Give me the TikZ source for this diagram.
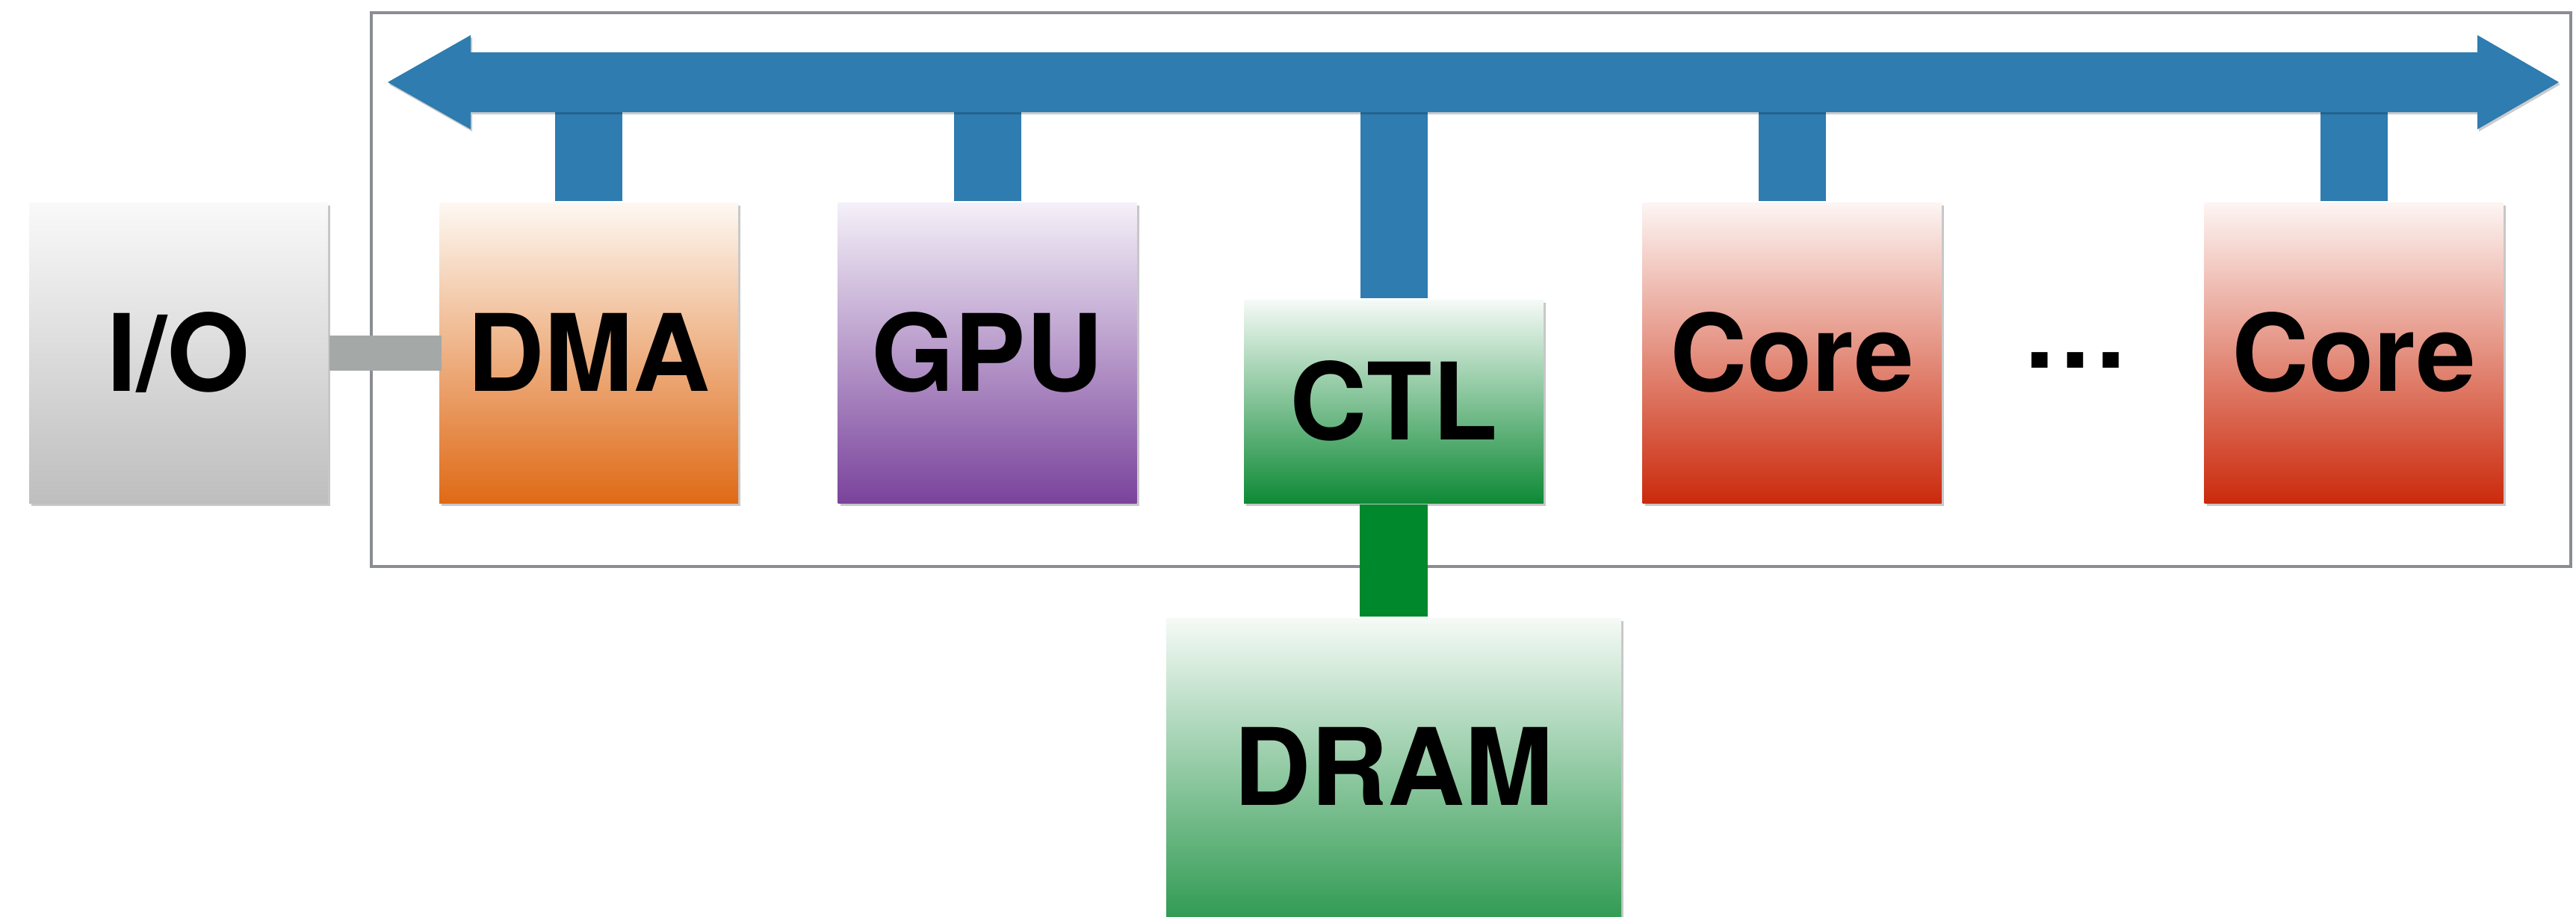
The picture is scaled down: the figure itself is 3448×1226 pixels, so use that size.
\documentclass[tikz,border=0pt]{standalone}
\usepackage{fontspec}
\setmainfont{TeX Gyre Heros}
\usetikzlibrary{shadows}

\definecolor{busblue}{RGB}{46,124,176}
\definecolor{framegray}{RGB}{138,141,146}
\definecolor{linkgray}{RGB}{164,168,167}
\definecolor{linkgreen}{RGB}{0,136,44}
\definecolor{ioTop}{RGB}{249,249,249}
\definecolor{ioBot}{RGB}{190,190,190}
\definecolor{dmaTop}{RGB}{253,248,242}
\definecolor{dmaBot}{RGB}{223,106,22}
\definecolor{gpuTop}{RGB}{244,240,248}
\definecolor{gpuBot}{RGB}{122,67,156}
\definecolor{grnTop}{RGB}{245,250,246}
\definecolor{grnBot}{RGB}{14,138,54}
\definecolor{coreTop}{RGB}{253,245,243}
\definecolor{coreBot}{RGB}{203,42,12}

\begin{document}
\begin{tikzpicture}[x=0.1pt,y=-0.1pt,
  unit/.style={rectangle, inner sep=0pt, minimum width=40pt, minimum height=40.2pt,
    font=\fontsize{14.3}{14.3}\selectfont\bfseries, text height=10.27pt, text depth=0pt,
    drop shadow={shadow xshift=0.3pt, shadow yshift=-0.4pt, opacity=0.22, fill=black}},
  stem/.style={line width=9pt, line cap=butt, draw=busblue},
  iolink/.style={line width=4.7pt, line cap=butt, draw=linkgray},
  memlink/.style={line width=9.1pt, line cap=butt, draw=linkgreen}]

% page area
\useasboundingbox (0,0) rectangle (3448,1226);

% chip outline
\draw[framegray, line width=0.4pt] (497,17) rectangle (3441,758);

% units
\node[unit, top color=ioTop,   bottom color=ioBot]   (io)    at (239,472)    {I/O};
\node[unit, top color=dmaTop,  bottom color=dmaBot]  (dma)   at (788,472)    {DMA};
\node[unit, top color=gpuTop,  bottom color=gpuBot]  (gpu)   at (1321.5,472) {GPU};
\node[unit, top color=grnTop,  bottom color=grnBot, minimum width=40.1pt, minimum height=27.2pt]
                                                     (ctl)   at (1865.5,537) {CTL};
\node[unit, top color=coreTop, bottom color=coreBot] (core1) at (2398.5,472) {Core};
\node[unit, top color=coreTop, bottom color=coreBot] (core2) at (3150.5,472) {Core};
\node[unit, top color=grnTop,  bottom color=grnBot!85!white, minimum width=60.9pt, minimum height=39.9pt,
      drop shadow={opacity=0}]
                                                     (dram)  at (1865.5,1026.5) {DRAM};
\node[inner sep=0pt, anchor=base, font=\fontsize{14.3}{14.3}\selectfont\bfseries] (dots) at (2778,492) {…};

% shared bus
\coordinate (busW) at (519,110);
\coordinate (busE) at (3425,110);
\draw[stem] (dma.north)   -- (dma.north   |- busW);
\draw[stem] (gpu.north)   -- (gpu.north   |- busW);
\draw[stem] (ctl.north)   -- (ctl.north   |- busW);
\draw[stem] (core1.north) -- (core1.north |- busW);
\draw[stem] (core2.north) -- (core2.north |- busW);
\fill[busblue, drop shadow={shadow xshift=0.2pt, shadow yshift=-0.3pt, opacity=0.2, fill=black}]
  (busW) -- ++(111,-63) -- ++(0,23) -- (3316,70) -- ++(0,-23) -- (busE)
  -- (3316,173) -- ++(0,-23) -- (630,150) -- ++(0,23) -- cycle;

% point-to-point links
\draw[iolink] (io.east) -- ([xshift=0.5pt]dma.west);
\draw[memlink] (ctl.south) -- (dram.north);

\end{tikzpicture}
\end{document}
